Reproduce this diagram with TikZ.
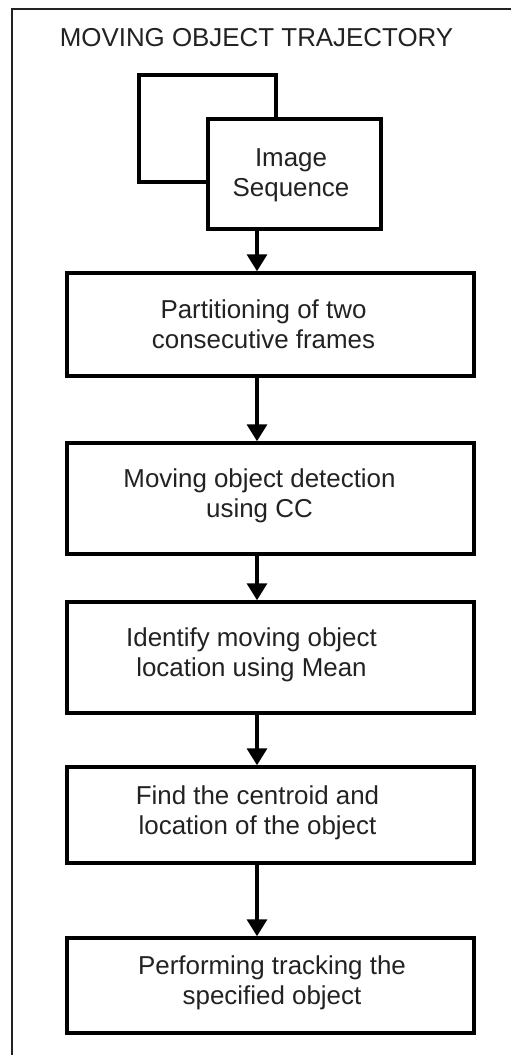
\documentclass[tikz,border=0pt]{standalone}
\usepackage{fontspec}
\setmainfont{Liberation Sans}
\usetikzlibrary{arrows.meta,calc}
\definecolor{ink}{HTML}{222222}
\tikzset{
  box/.style={draw=black, line width=3.5bp, fill=white, rectangle, inner sep=0pt},
  txt/.style={text=ink, align=center, font=\fontsize{26}{30}\selectfont, inner sep=0pt},
  flow/.style={draw=black, line width=3.5bp, -{Triangle[width=20bp,length=17bp]}},
  frame/.style={draw=ink, line width=2.4bp}
}
\begin{document}
\begin{tikzpicture}[x=1bp,y=-1bp]
\useasboundingbox (0,0) rectangle (511,1055);
% outer frame (only top and left visible)
\coordinate (ftr) at (520,9);
\coordinate (ftl) at (12,9);
\coordinate (fbl) at (12,1065);
\draw[frame] (ftr) -- (ftl) -- (fbl);
% title
\node[txt, anchor=base] (title) at (256.5,46) {MOVING OBJECT TRAJECTORY};
% image sequence stack
\node[box, minimum width=137bp, minimum height=107bp] (back) at (207.5,128.5) {};
\node[box, minimum width=173bp, minimum height=110bp] (b0) at (294.5,174) {};
\node[txt] (t0) at (291,175) {Image\\Sequence};
% process boxes
\node[box, minimum width=407bp, minimum height=103bp] (b1) at (270.5,324.5) {};
\node[txt] (t1) at (263.5,324) {Partitioning of two\\consecutive frames};
\node[box, minimum width=407bp, minimum height=111bp] (b2) at (270.5,498.5) {};
\node[txt] (t2) at (259.5,495.5) {Moving object detection\\using CC};
\node[box, minimum width=407bp, minimum height=111bp] (b3) at (270.5,657.5) {};
\node[txt] (t3) at (251.5,655) {Identify moving object\\location using Mean};
\node[box, minimum width=407bp, minimum height=96bp] (b4) at (270.5,815) {};
\node[txt] (t4) at (257.5,812.5) {Find the centroid and\\location of the object};
\node[box, minimum width=407bp, minimum height=95bp] (b5) at (270.5,985.5) {};
\node[txt] (t5) at (272,983) {Performing tracking the\\specified object};
% arrows
\coordinate (ax) at (257,0);
\draw[flow] (b0.south -| ax) -- (b1.north -| ax);
\draw[flow] (b1.south -| ax) -- (b2.north -| ax);
\draw[flow] (b2.south -| ax) -- (b3.north -| ax);
\draw[flow] (b3.south -| ax) -- (b4.north -| ax);
\draw[flow] (b4.south -| ax) -- (b5.north -| ax);
\end{tikzpicture}
\end{document}
